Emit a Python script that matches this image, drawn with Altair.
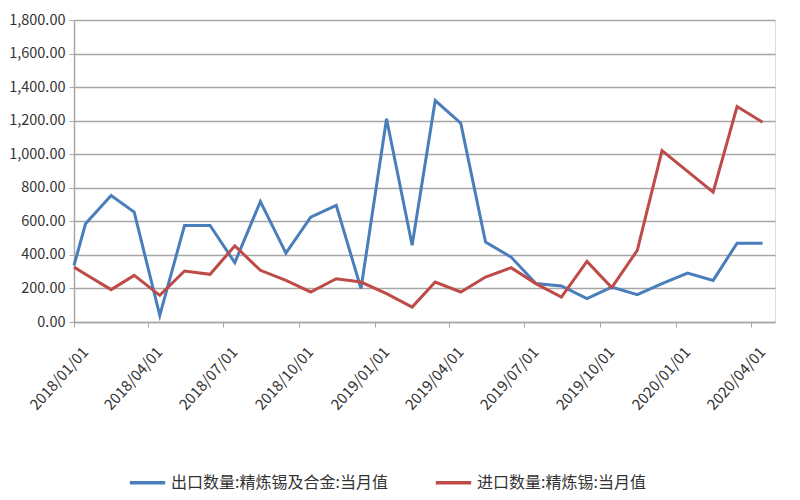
import altair as alt
import pandas as pd

dates = [
    "2018-01-01", "2018-01-15", "2018-02-15", "2018-03-15", "2018-04-15", "2018-05-15",
    "2018-06-15", "2018-07-15", "2018-08-15", "2018-09-15", "2018-10-15", "2018-11-15",
    "2018-12-15", "2019-01-15", "2019-02-15", "2019-03-15", "2019-04-15", "2019-05-15",
    "2019-06-15", "2019-07-15", "2019-08-15", "2019-09-15", "2019-10-15", "2019-11-15",
    "2019-12-15", "2020-01-15", "2020-02-15", "2020-03-15", "2020-04-15",
]
export_vals = [
    337, 585, 754, 655, 40, 575, 575, 354, 718, 411, 625, 695, 199, 1211, 457,
    1320, 1185, 476, 387, 229, 215, 139, 208, 163, 229, 292, 248, 470, 470,
]
import_vals = [
    327, 285, 193, 278, 159, 304, 284, 454, 308, 248, 179, 258, 238, 169, 89,
    238, 179, 268, 324, 229, 149, 361, 205, 427, 1022, 898, 774, 1284, 1190,
]
series_names = ["出口数量:精炼锡及合金:当月值", "进口数量:精炼锡:当月值"]
series_colors = ["#4a7ebb", "#be4b48"]
tick_months = [(2018, 1), (2018, 4), (2018, 7), (2018, 10), (2019, 1), (2019, 4),
               (2019, 7), (2019, 10), (2020, 1), (2020, 4)]
y_ticks = [0, 200, 400, 600, 800, 1000, 1200, 1400, 1600, 1800]

df = pd.DataFrame({
    "date": [d + "T00:00:00" for d in dates] * 2,
    "value": export_vals + import_vals,
    "series": [series_names[0]] * len(dates) + [series_names[1]] * len(dates),
    "ord": [0] * len(dates) + [1] * len(dates),
})

font = "Noto Sans CJK SC"

chart = alt.Chart(df).mark_line(strokeWidth=3).encode(
    x=alt.X(
        "date:T",
        title=None,
        scale=alt.Scale(domain=[alt.DateTime(year=2018, month=1, date=1),
                                alt.DateTime(year=2020, month=4, date=30)]),
        axis=alt.Axis(
            values=[alt.DateTime(year=y, month=m, date=1) for y, m in tick_months],
            format="%Y/%m/%d",
            labelAngle=-48,
            labelFontSize=15,
            labelColor="#333333",
            labelFont=font,
            grid=False,
            domainColor="#a6a6a6",
            domainWidth=1.5,
            tickColor="#a6a6a6",
            tickSize=5,
            labelPadding=22,
            labelOffset=11,
            labelOverlap=False,
        ),
    ),
    y=alt.Y(
        "value:Q",
        title=None,
        scale=alt.Scale(domain=[0, 1800], nice=False),
        axis=alt.Axis(
            values=y_ticks,
            format=",.2f",
            labelFontSize=14.5,
            labelColor="#333333",
            labelFont=font,
            gridColor="#a6a6a6",
            gridWidth=1.5,
            domainColor="#a6a6a6",
            domainWidth=1.5,
            tickColor="#a6a6a6",
            tickSize=5,
            labelPadding=4,
        ),
    ),
    color=alt.Color(
        "series:N",
        scale=alt.Scale(domain=series_names, range=series_colors),
        legend=alt.Legend(
            title=None,
            orient="none",
            direction="horizontal",
            legendX=54,
            legendY=443,
            symbolType="stroke",
            symbolSize=1250,
            symbolStrokeWidth=3.5,
            labelFontSize=16,
            labelFont=font,
            labelColor="#333333",
            columnPadding=40,
            labelLimit=400,
        ),
    ),
    order=alt.Order("ord:Q"),
).properties(
    width=701,
    height=302,
    autosize=alt.AutoSizeParams(type="none"),
    padding={"left": 66, "top": 12, "right": 10, "bottom": 170},
).configure_view(stroke=None).configure(background="white")

chart.save("out.html", embed_options={"renderer": "svg", "actions": False})
